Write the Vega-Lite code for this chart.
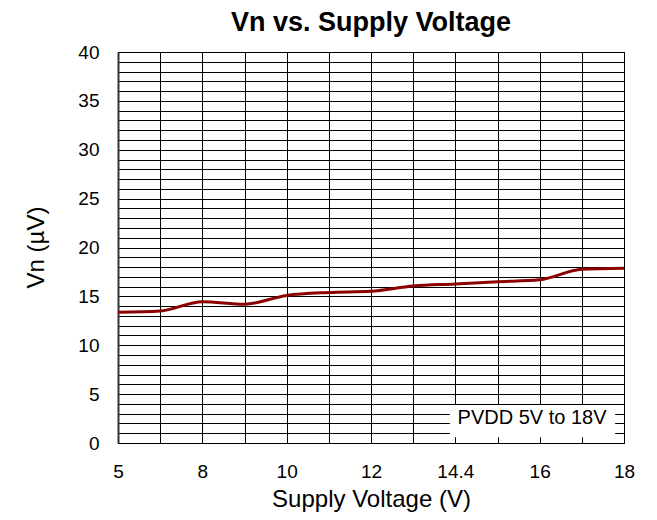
{
  "$schema": "https://vega.github.io/schema/vega-lite/v6.json",
  "width": 506,
  "height": 391,
  "autosize": {"type": "none"},
  "padding": {"left": 118, "top": 52, "right": 33, "bottom": 77},
  "background": "white",
  "config": {
    "font": "Liberation Sans",
    "view": {"stroke": "#000000", "strokeWidth": 1},
    "axis": {"labelFont": "Liberation Sans", "titleFont": "Liberation Sans", "labelColor": "#000", "titleColor": "#000"}
  },
  "title": {
    "text": "Vn vs. Supply Voltage",
    "fontSize": 27,
    "fontWeight": "bold",
    "font": "Liberation Sans",
    "color": "#000",
    "anchor": "middle",
    "frame": "group",
    "offset": 6
  },
  "datasets": {
    "curve": [
      {"idx": 0, "voltage": "5", "vn": 13.37},
      {"idx": 1, "voltage": "6", "vn": 13.5},
      {"idx": 2, "voltage": "8", "vn": 14.46},
      {"idx": 3, "voltage": "9", "vn": 14.2},
      {"idx": 4, "voltage": "10", "vn": 15.1},
      {"idx": 5, "voltage": "11", "vn": 15.4},
      {"idx": 6, "voltage": "12", "vn": 15.52},
      {"idx": 7, "voltage": "13", "vn": 16.06},
      {"idx": 8, "voltage": "14.4", "vn": 16.27},
      {"idx": 9, "voltage": "15", "vn": 16.5},
      {"idx": 10, "voltage": "16", "vn": 16.7},
      {"idx": 11, "voltage": "17", "vn": 17.77},
      {"idx": 12, "voltage": "18", "vn": 17.87}
    ],
    "box": [
      {"x1": 7.87, "x2": 11.79, "y1": 0.6, "y2": 3.9}
    ],
    "note": [
      {"x": 9.82, "y": 2.55, "label": "PVDD 5V to 18V"}
    ]
  },
  "layer": [
    {
      "data": {"name": "curve"},
      "mark": {"type": "line", "color": "#8b0000", "strokeWidth": 3, "interpolate": "monotone"},
      "encoding": {
        "x": {
          "field": "idx",
          "type": "quantitative",
          "scale": {"domain": [0, 12], "nice": false, "zero": false},
          "axis": {
            "title": "Supply Voltage (V)",
            "values": [0, 1, 2, 3, 4, 5, 6, 7, 8, 9, 10, 11, 12],
            "tickCount": 13,
            "labelExpr": "datum.value % 2 == 0 ? ['5','','8','','10','','12','','14.4','','16','','18'][datum.value] : ''",
            "labelFontSize": 19,
            "labelPadding": 19,
            "labelFlush": false,
            "labelOverlap": false,
            "ticks": false,
            "tickSize": 0,
            "grid": true,
            "gridColor": "#000000",
            "gridOpacity": 1,
            "gridWidth": 1,
            "domain": true,
            "domainColor": "#000",
            "domainWidth": 1,
            "titleFontSize": 24,
            "titleFontWeight": "normal",
            "titleBaseline": "middle",
            "titleY": 56
          }
        },
        "y": {
          "field": "vn",
          "type": "quantitative",
          "scale": {"domain": [0, 40], "nice": false},
          "axis": {
            "title": "Vn (µV)",
            "values": [0,1,2,3,4,5,6,7,8,9,10,11,12,13,14,15,16,17,18,19,20,21,22,23,24,25,26,27,28,29,30,31,32,33,34,35,36,37,38,39,40],
            "tickCount": 41,
            "labelExpr": "datum.value % 5 == 0 ? datum.label : ''",
            "labelFontSize": 19,
            "labelPadding": 19,
            "labelFlush": false,
            "labelOverlap": false,
            "ticks": false,
            "tickSize": 0,
            "grid": true,
            "gridColor": "#000000",
            "gridOpacity": 1,
            "gridWidth": 1,
            "domain": true,
            "domainColor": "#333",
            "domainWidth": 2,
            "titleFontSize": 24,
            "titleFontWeight": "normal",
            "titleBaseline": "middle",
            "titleX": -82,
            "titleY": 195
          }
        }
      }
    },
    {
      "data": {"name": "box"},
      "mark": {"type": "rect", "fill": "white", "stroke": null},
      "encoding": {
        "x": {"field": "x1", "type": "quantitative"},
        "x2": {"field": "x2"},
        "y": {"field": "y1", "type": "quantitative"},
        "y2": {"field": "y2"}
      }
    },
    {
      "data": {"name": "note"},
      "mark": {"type": "text", "fontSize": 20, "font": "Liberation Sans", "color": "#000", "align": "center", "baseline": "middle"},
      "encoding": {
        "x": {"field": "x", "type": "quantitative"},
        "y": {"field": "y", "type": "quantitative"},
        "text": {"field": "label"}
      }
    }
  ]
}
